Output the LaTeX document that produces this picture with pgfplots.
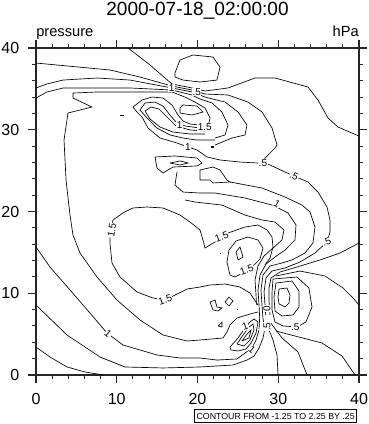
\documentclass[border=0pt]{standalone}
\usepackage{fontspec}
\setmainfont{Liberation Sans}
\usepackage{pgfplots}
\pgfplotsset{compat=1.18}
\pgfplotsset{cl/.style={black, line width=0.5pt, mark=none}}
\tikzset{clab/.style={font=\fontsize{7.5}{8}\selectfont, fill=white, inner sep=0.4pt}}
\begin{document}
\begin{tikzpicture}
\useasboundingbox (-27pt,-36.75pt) rectangle (249pt,281.25pt);
\begin{axis}[
  at={(0,0)}, anchor=south west,
  width=242.25pt, height=245.25pt, scale only axis,
  xmin=0, xmax=40, ymin=0, ymax=40,
  xtick={0,10,20,30,40}, ytick={0,10,20,30,40},
  minor x tick num=4, minor y tick num=4,
  tick align=outside,
  major tick length=6pt, minor tick length=3pt,
  tick style={black!85, line width=0.8pt},
  axis line style={black!85, line width=0.8pt},
  tick label style={font=\fontsize{12}{14}\selectfont},
  xticklabel style={yshift=-4pt},
  yticklabel style={xshift=-3pt},
  /pgf/number format/assume math mode=true,
  clip=false,
]
% bottom-left
\addplot[cl] coordinates {(0,3.42) (1.73,2.20) (3.84,0.98) (6.07,0.37) (8.30,0)};
\addplot[cl] coordinates {(0,8.56) (3.84,4.89) (7.93,2.20) (11.02,0.98) (15.73,0.86) (20.31,0.98) (24.40,1.22) (26.13,1.83) (27.0,2.32) (27.62,3.30) (28.11,4.53) (28.36,5.75)};
\addplot[cl] coordinates {(0,15.66) (1.73,13.21) (4.21,10.40) (6.69,7.58) (8.79,5.14) (10.77,3.67) (14.98,2.45) (17.83,2.08) (20.31,2.08) (22.41,1.83) (24.89,1.96) (25.88,2.69) (26.75,3.30) (27.25,4.28) (27.62,5.50)};
% L4 + c2
\addplot[cl] coordinates {(20.56,30.33) (21.30,30.33) (21.55,31.44) (20.93,32.66) (19.69,33.39) (18.45,34.00) (16.84,34.62) (11.64,34.62) (7.55,34.62) (4.58,34.49) (4.58,33.88) (6.93,32.78) (3.96,32.05) (3.47,28.74) (3.72,23.85) (4.21,19.57) (4.58,17.12) (5.45,14.92) (7.55,11.99) (10.03,9.17) (12.88,6.73) (15.73,4.89) (18.70,4.16) (20.31,4.28) (23.16,4.53) (23.65,5.26) (24.02,6.12) (24.89,6.97) (26.50,7.46) (27.49,7.71)};
% big 1.5 contour
\addplot[cl] coordinates {(27.49,8.56) (26.50,10.03) (25.26,10.76) (23.41,11.13) (21.55,11.01) (20.31,10.76) (18.70,10.52) (16.97,9.66) (15.98,9.17) (14.49,9.42) (12.51,10.15) (10.40,11.99) (9.41,13.70) (9.16,16.15) (9.16,17.37) (9.54,18.96) (10.77,19.82) (12.01,20.43) (13.75,20.55) (15.73,20.43) (17.83,19.57) (19.07,18.71) (20.31,17.74) (20.68,16.51) (20.93,15.53) (22.17,16.27) (23.78,17.37) (25.88,18.10) (27.49,18.35) (28.61,17.74) (29.23,16.88) (29.35,15.66) (28.98,14.31) (28.36,13.46)};
\addplot[cl] coordinates {(24.02,12.23) (23.65,13.82) (23.90,15.29) (24.77,16.39) (26.25,16.88) (27.49,16.51) (28.11,15.53) (27.74,14.19) (26.75,13.21) (25.64,12.48) (24.64,11.99) (24.02,12.23)};
\addplot[cl] coordinates {(24.77,15.05) (25.26,15.66) (25.64,14.43) (25.02,14.07) (24.77,15.05)};
% top
\addplot[cl] coordinates {(11.4,40) (14.12,37.92) (15.98,36.33) (16.84,35.60) (19.32,35.11) (20.93,34.74) (23.78,35.11) (27.12,36.33) (29.60,36.33) (33.68,35.23) (34.92,33.64) (36.16,31.44) (37.40,30.33) (40,29.23)};
\addplot[cl] coordinates {(17.21,36.45) (17.21,36.94) (17.83,38.53) (19.44,39.14) (21.92,38.90) (22.79,37.67) (22.41,36.08) (20.31,35.84) (18.20,36.08) (17.21,36.45)};
\addplot[cl] coordinates {(0,38.16) (9.16,37.31) (12.88,36.45) (16.84,35.35) (19.32,34.86) (20.93,34.37) (23.78,34.25) (26.25,33.39) (27.99,32.17) (29.23,30.21) (29.85,28.13) (29.60,27.77) (28.36,26.54) (28.11,25.93) (28.98,25.69) (30.84,24.83) (31.95,24.34) (33.68,23.61) (34.92,22.38) (36.04,20.55) (36.41,18.96) (36.41,17.49) (36.04,16.27) (34.55,14.92) (32.69,13.82) (30.84,13.09) (29.23,12.72) (28.48,11.87) (28.24,10.15) (28.36,8.56) (28.45,7.3)};
\addplot[cl] coordinates {(0,35.11) (1.36,35.60) (3.34,36.08) (7.55,36.33) (11.64,36.08) (16.84,35.11) (19.32,34.62) (20.93,34.00) (23.41,33.39) (25.02,32.17) (26.13,30.58) (25.88,29.36) (24.27,28.99) (22.17,28.13)};
\addplot[cl] coordinates {(0,33.88) (1.36,34.62) (3.34,35.11) (7.55,35.11) (11.64,35.11) (16.84,34.86) (19.32,34.25) (20.31,33.76) (21.80,33.27) (23.03,32.17) (23.78,30.58) (23.41,29.36) (22.17,28.99)};
\addplot[cl] coordinates {(17.83,32.66) (18.20,33.03) (19.94,32.90) (20.68,32.17) (19.32,31.80) (17.83,32.05) (17.83,32.66)};
% tongue
\addplot[cl] coordinates {(20.31,30.58) (19.07,30.70) (18.20,31.07) (17.59,31.80) (16.84,33.03) (15.73,33.88) (14.37,34.00) (13.13,33.64) (12.01,32.78) (12.51,32.17) (13.13,31.56) (13.87,30.21) (15.36,28.99) (17.46,28.38) (18.82,27.89) (19.94,27.52) (21.18,26.67) (22.79,26.30) (25.26,26.05) (27.49,25.93)};
\addplot[cl] coordinates {(20.31,30.21) (18.45,30.46) (17.34,30.95) (16.59,31.80) (15.73,32.90) (14.74,33.39) (13.50,33.27) (12.88,32.41) (13.75,31.44) (14.98,30.21) (16.59,29.36) (18.20,28.99) (19.94,28.74) (22.17,28.74)};
\addplot[cl] coordinates {(20.93,29.85) (19.07,29.97) (17.34,30.46) (16.22,31.56) (15.23,32.54) (14.24,32.78) (13.50,32.29) (14.12,31.31) (15.36,30.33) (16.97,29.72) (19.07,29.48) (20.93,29.48)};
% middle
\addplot[cl] coordinates {(14.74,26.67) (17.21,26.79) (19.94,26.54) (20.56,25.93) (19.94,25.57) (16.97,25.44) (15.73,24.71) (14.98,25.32) (14.74,26.67)};
\addplot[cl] coordinates {(16.59,25.93) (17.83,26.18) (18.82,25.93) (17.83,25.69) (16.59,25.93)};
\addplot[cl] coordinates {(20.31,25.08) (21.92,25.44) (22.79,25.08) (23.65,23.85) (24.02,23.61) (21.92,23.49) (21.55,23.85) (20.31,23.85) (20.31,25.08)};
\addplot[cl] coordinates {(24.02,23.61) (27.99,22.87) (30.84,21.77) (32.94,20.79) (33.93,19.94) (34.55,18.10) (34.30,16.15) (33.31,14.92) (31.70,14.07) (30.46,13.70) (28.98,13.33) (28.11,12.23) (27.86,10.40) (27.99,8.56) (28.1,7.0) (28.3,5.8)};
\addplot[cl] coordinates {(17.46,24.83) (17.21,23.24) (18.20,22.38) (20.31,22.26) (22.17,22.26) (25.88,21.65) (29.23,20.79) (31.21,19.82) (32.20,18.35) (32.07,16.51) (30.84,15.29) (29.60,14.43) (28.48,13.58) (27.74,12.23) (27.49,10.40) (27.62,8.56) (27.7,7.0) (27.62,5.6)};
\addplot[cl] coordinates {(18.45,21.41) (19.69,21.16) (23.03,20.79) (25.88,19.57) (27.99,18.96) (29.60,18.71) (30.71,17.74) (30.46,16.51) (29.35,15.53) (28.24,14.56) (27.49,13.33) (27.12,11.62) (27.25,9.79) (27.3,8.6)};
% right
\addplot[cl] coordinates {(40,16.15) (37.65,14.92) (35.17,14.07) (32.32,13.21) (30.22,12.60) (29.10,11.87) (28.85,10.64) (28.85,9.17) (28.98,7.34)};
\addplot[cl] coordinates {(30.10,10.52) (31.08,10.64) (31.46,9.79) (31.33,8.81) (30.84,8.32) (30.10,8.69) (29.97,9.54) (30.10,10.52)};
\addplot[cl] coordinates {(29.72,11.25) (31.70,11.50) (32.57,10.27) (32.57,8.32) (31.83,7.34) (30.46,7.22) (29.60,7.83) (29.47,9.54) (29.72,11.25)};
\addplot[cl] coordinates {(29.35,11.74) (32.32,11.99) (33.80,10.64) (34.18,8.32) (33.43,6.48) (32.32,5.87) (30.59,6.00) (29.60,6.48) (29.23,7.95) (29.23,10.15) (29.35,11.74)};
\addplot[cl] coordinates {(29.72,12.11) (32.69,12.72) (35.79,12.11) (38.02,10.64) (39.26,9.42) (40,8.56)};
\addplot[cl] coordinates {(28.98,6.48) (30.46,4.53) (32.45,2.81) (33.56,0)};
\addplot[cl] coordinates {(28.61,6.12) (29.35,4.28) (29.85,2.45) (29.97,0)};
\addplot[cl] coordinates {(29.72,5.38) (32.07,4.77) (35.42,3.91) (37.90,2.32) (39.51,0)};
% bottom "1" region
\addplot[cl] coordinates {(24.02,3.42) (25.02,4.53) (25.88,5.75) (26.50,6.48) (27.00,6.85) (27.49,6.48) (27.25,5.14) (26.63,3.91) (26.00,3.18) (25.02,2.94) (24.15,3.06) (24.02,3.42)};
\addplot[cl] coordinates {(24.89,3.79) (25.64,4.89) (26.38,5.87) (26.87,6.24) (27.00,5.50) (26.50,4.28) (25.76,3.55) (24.89,3.79)};
\addplot[cl] coordinates {(25.51,4.16) (26.13,5.01) (26.63,5.50) (26.38,4.53) (25.51,4.16)};
% tiny features
\addplot[cl] coordinates {(21.55,8.93) (22.17,9.17) (22.41,8.32) (23.03,8.20) (22.54,7.83) (21.92,7.95) (21.55,8.93)};
\addplot[cl] coordinates {(23.41,8.93) (23.90,9.54) (24.40,9.05) (23.90,8.44) (23.41,8.93)};
\addplot[cl] coordinates {(22.54,5.99) (23.03,6.48) (23.03,5.87) (22.54,5.99)};
\addplot[cl] coordinates {(21.7,27.8) (22.0,27.8) (22.0,28.0) (21.7,28.0) (21.7,27.8)};
\addplot[cl] coordinates {(10.4,31.8) (10.9,31.8)};
\addplot[cl] coordinates {(24.85,8.0) (25.05,8.0)};
\addplot[cl] coordinates {(22.75,14.9) (22.9,14.9)};
% contour labels
\node[clab] at (axis cs:16.8,35.1) {1};
\node[clab] at (axis cs:19.9,34.6) {.5};
\node[clab] at (axis cs:17.8,30.6) {1};
\node[clab] at (axis cs:20.9,30.3) {1.5};
\node[clab] at (axis cs:18.8,27.9) {1};
\node[clab] at (axis cs:28.1,25.9) {.5};
\node[clab, rotate=-25] at (axis cs:31.95,24.3) {.5};
\node[clab, rotate=-30] at (axis cs:29.85,20.9) {1};
\node[clab, rotate=20] at (axis cs:36.0,16.3) {.5};
\node[clab, rotate=80] at (axis cs:9.4,17.7) {1.5};
\node[clab, rotate=20] at (axis cs:16.0,9.2) {1.5};
\node[clab, rotate=-40] at (axis cs:8.9,5.0) {1};
\node[clab, rotate=20] at (axis cs:23.0,16.9) {1.5};
\node[clab, rotate=20] at (axis cs:26.1,12.85) {1.5};
\node[clab, rotate=90] at (axis cs:28.6,8.1) {0};
\node[clab, rotate=90] at (axis cs:28.6,5.9) {.5};
\node[clab] at (axis cs:32.1,5.85) {.5};
\node[clab, rotate=20] at (axis cs:25.9,5.9) {1};
\node[clab, rotate=-40] at (axis cs:26.75,3.1) {1};
% titles
\node[anchor=base, font=\fontsize{14.3}{17}\selectfont, yshift=24.75pt] at (axis description cs:0.5,1) {2000-07-18\_02:00:00};
\node[anchor=base west, font=\fontsize{11}{13}\selectfont, inner sep=0pt, yshift=8.25pt] at (axis description cs:0,1) {pressure};
\node[anchor=base east, font=\fontsize{11}{13}\selectfont, inner sep=0pt, yshift=8.25pt] at (axis description cs:1,1) {hPa};
\node[draw, line width=0.5pt, anchor=north east, font=\fontsize{6.6}{8}\selectfont, inner sep=1pt, minimum height=10pt, minimum width=121.5pt, xshift=-1.5pt, yshift=-25.5pt] at (axis description cs:1,0) {CONTOUR FROM -1.25 TO 2.25 BY .25};
\end{axis}
\end{tikzpicture}
\end{document}
